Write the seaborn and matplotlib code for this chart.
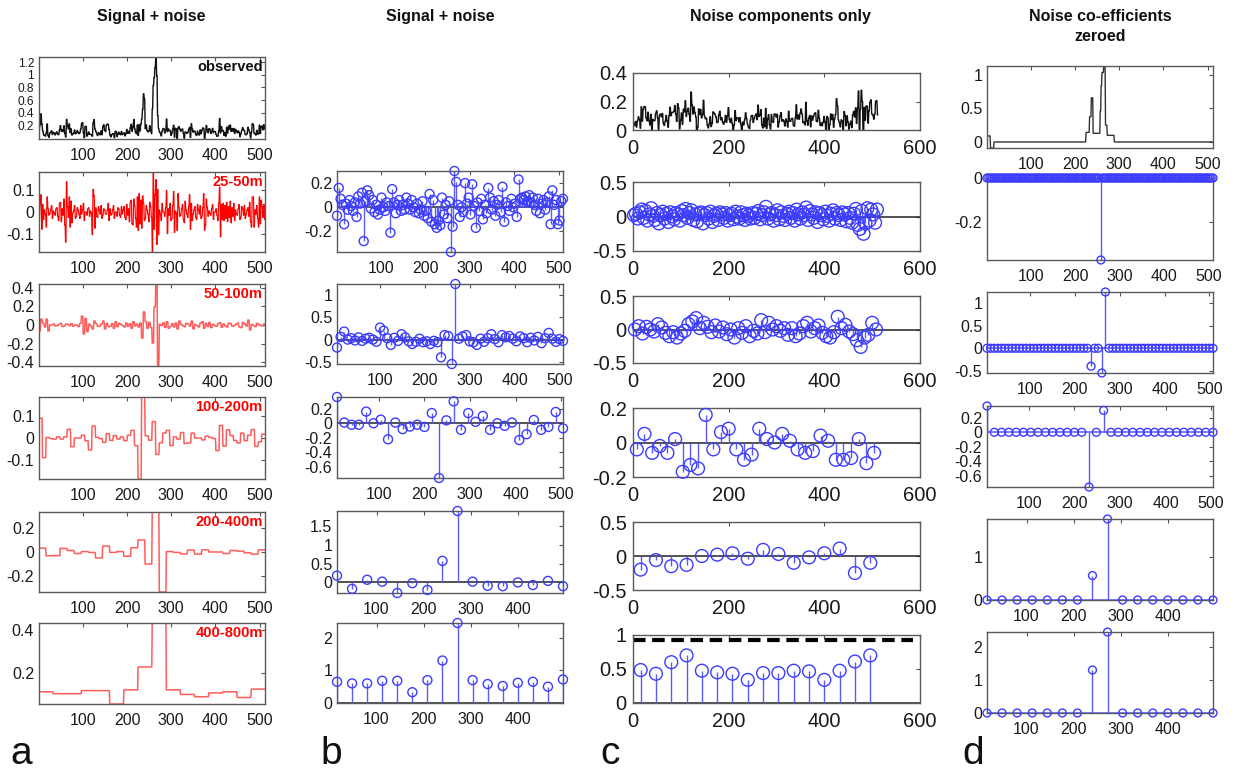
import numpy as np
import matplotlib
matplotlib.use("Agg")
import matplotlib.pyplot as plt
import seaborn as sns
from matplotlib.ticker import FuncFormatter

# ---------------- Haar coefficients of the observed record (signal + noise) ----------------
# detail level 2 (25-50 m), 128 coefficients
sn_d2 = [-0.07, 0.16, 0.07, 0.02, -0.14, 0.03, -0.02, 0.06, 0.01, -0.03, 0.04, -0.08, 0.09, 0.03, 0.12, -0.28,
         0.05, 0.14, 0.10, -0.01, 0.06, -0.04, 0.02, -0.06, -0.02, 0.08, 0.00, -0.03, 0.04, 0.01, -0.21, 0.15,
         0.04, -0.05, 0.02, 0.06, -0.03, 0.02, -0.02, 0.08, 0.03, -0.02, 0.06, 0.00, -0.04, 0.03, -0.05, -0.02,
         0.05, -0.07, -0.03, -0.09, 0.11, -0.12, 0.06, -0.14, -0.17, -0.11, -0.15, 0.08, -0.06, 0.02, -0.09, 0.05,
         -0.37, -0.16, 0.30, 0.21, 0.02, -0.08, 0.00, -0.04, 0.20, 0.03, 0.08, -0.06, 0.19, 0.01, -0.17, 0.04,
         -0.03, 0.07, -0.10, 0.02, -0.05, 0.16, 0.08, -0.02, 0.05, -0.07, 0.02, 0.06, -0.04, 0.17, -0.12, 0.04,
         0.01, -0.03, 0.07, 0.00, 0.03, -0.08, 0.23, 0.07, 0.08, 0.06, 0.09, 0.05, 0.10, 0.04, 0.08, 0.02,
         -0.03, 0.07, -0.05, 0.03, 0.06, -0.02, 0.04, 0.09, -0.14, 0.14, 0.02, 0.06, -0.14, -0.11, 0.05, 0.07]
# detail level 3 (50-100 m), 64 coefficients
sn_d3 = [-0.18, 0.06, 0.18, 0.00, 0.03, -0.02, 0.05, -0.03, 0.02, 0.04, 0.00, -0.05, 0.27, 0.20, 0.03, -0.12,
         0.04, -0.03, 0.12, 0.05, -0.04, -0.10, -0.05, 0.02, -0.06, -0.04, -0.10, -0.03, -0.06, -0.40, 0.10, 0.08,
         -0.55, 1.25, 0.02, 0.07, 0.10, -0.04, -0.06, -0.12, 0.02, -0.05, 0.03, 0.12, 0.01, -0.06, 0.10, 0.05,
         0.08, 0.02, -0.04, 0.07, 0.03, -0.06, 0.04, -0.02, 0.06, -0.08, 0.03, 0.15, 0.02, -0.05, 0.01, -0.03]
# detail level 4 (100-200 m), 32 coefficients
sn_d4 = [0.36, 0.01, -0.02, -0.02, 0.16, 0.00, 0.05, -0.22, 0.01, -0.08, -0.045, -0.02, -0.05, 0.14, -0.75, 0.04,
         0.30, -0.09, 0.14, 0.02, 0.10, -0.09, 0.00, -0.035, 0.01, -0.23, -0.15, 0.045, -0.09, -0.05, 0.155, -0.07]
# detail level 5 (200-400 m), 16 coefficients
sn_d5 = [0.18, -0.17, 0.07, 0.02, -0.28, -0.02, -0.20, 0.57, 1.89, 0.02, -0.09, -0.10, 0.00, -0.07, 0.04, -0.10]
# approximation level 5 (400-800 m), 16 coefficients
sn_a5 = [0.65, 0.60, 0.60, 0.68, 0.68, 0.33, 0.70, 1.30, 2.45, 0.70, 0.58, 0.52, 0.62, 0.65, 0.50, 0.72]

# ---------------- Haar coefficients of the noise-only record ----------------
nz_d2 = [0.02, 0.04, -0.03, 0.06, 0.10, -0.02, 0.08, -0.06, 0.03, 0.12, 0.01, -0.05, 0.05, -0.10, 0.02, 0.07,
         -0.03, 0.04, -0.08, 0.06, 0.00, -0.04, 0.05, 0.03, -0.06, 0.08, 0.02, 0.11, -0.02, 0.05, 0.09, -0.05,
         0.03, -0.07, 0.04, 0.06, -0.10, 0.02, 0.05, -0.03, 0.07, -0.08, 0.01, 0.04, -0.05, 0.06, 0.03, -0.02,
         0.05, -0.06, 0.02, 0.04, -0.04, 0.07, 0.00, -0.03, 0.06, 0.02, -0.05, 0.04, 0.01, -0.03, 0.05, -0.02,
         0.04, 0.08, -0.04, 0.02, 0.06, 0.14, -0.03, 0.03, 0.05, -0.06, 0.02, 0.09, -0.04, 0.06, 0.01, -0.05,
         0.04, 0.07, -0.02, 0.05, -0.06, 0.10, 0.03, -0.03, 0.06, 0.02, 0.13, -0.05, 0.08, 0.03, -0.02, 0.06,
         -0.08, 0.05, 0.02, -0.04, 0.07, 0.01, -0.06, 0.04, 0.09, -0.03, 0.05, 0.02, -0.05, 0.06, 0.03, -0.07,
         0.05, -0.02, -0.09, 0.04, 0.11, -0.12, -0.18, 0.08, -0.25, -0.10, 0.12, -0.06, 0.10, 0.03, -0.09, 0.10]
nz_d3 = [0.00, 0.05, -0.06, 0.04, 0.00, -0.03, 0.08, 0.03, -0.05, -0.10, -0.04, -0.12, -0.06, -0.02, 0.08, 0.12,
         0.17, 0.02, 0.10, 0.04, -0.04, 0.06, -0.03, 0.03, -0.07, 0.00, -0.12, 0.02, -0.05, 0.05, -0.10, -0.02,
         -0.06, 0.14, -0.04, 0.10, 0.00, 0.05, -0.02, 0.02, -0.08, 0.02, -0.10, -0.06, 0.05, 0.10, -0.03, 0.02,
         0.06, -0.05, -0.10, -0.12, -0.04, 0.19, 0.02, 0.07, -0.03, -0.07, -0.16, -0.26, -0.12, -0.08, 0.10, 0.00]
nz_d4 = [-0.04, 0.05, -0.06, -0.02, -0.06, 0.02, -0.17, -0.13, -0.15, 0.16, -0.04, 0.06, 0.08, -0.04, -0.10, -0.07,
         0.08, 0.02, 0.00, 0.05, 0.01, -0.04, -0.06, -0.05, 0.04, 0.01, -0.10, -0.10, -0.09, 0.02, -0.12, -0.06]
nz_d5 = [-0.20, -0.06, -0.15, -0.13, 0.00, 0.02, 0.04, -0.04, 0.09, 0.03, -0.10, -0.02, 0.04, 0.11, -0.25, -0.10]
nz_a5 = [0.485, 0.43, 0.60, 0.70, 0.475, 0.45, 0.43, 0.34, 0.44, 0.44, 0.475, 0.465, 0.34, 0.475, 0.61, 0.70]
noise_threshold = 0.93
threshold_span = [0, 585]

# indices of coefficients that survive thresholding
kept_d2 = [64]
kept_d3 = [29, 32, 33]
kept_d4 = [0, 14, 16]
kept_d5 = [7, 8]
kept_a5 = [7, 8]

band_labels = ["25-50m", "50-100m", "100-200m", "200-400m", "400-800m"]
col_titles = ["Signal + noise", "Signal + noise", "Noise components only", "Noise co-efficients\nzeroed"]
panel_letters = ["a", "b", "c", "d"]
N_SAMPLES = 512

# ---------------- helpers ----------------
samples = np.arange(1, N_SAMPLES + 1)


def coef_positions(n):
    step = N_SAMPLES // n
    return step // 2 + step * np.arange(n)


def detail_wave(c, level):
    c = np.asarray(c, float)
    half = 2 ** (level - 1)
    sign = np.r_[np.ones(half), -np.ones(half)]
    return np.outer(c, sign).ravel() / 2 ** (level / 2)


def approx_wave(c, level):
    return np.repeat(np.asarray(c, float), 2 ** level) / 2 ** (level / 2)


def zeroed(c, keep):
    c = np.asarray(c, float)
    out = np.zeros_like(c)
    out[keep] = c[keep]
    return out


def synthesis(d2, d3, d4, d5, a5):
    return (detail_wave(d2, 2) + detail_wave(d3, 3) + detail_wave(d4, 4)
            + detail_wave(d5, 5) + approx_wave(a5, 5))


sn_bands = [sn_d2, sn_d3, sn_d4, sn_d5, sn_a5]
nz_bands = [nz_d2, nz_d3, nz_d4, nz_d5, nz_a5]
kept = [kept_d2, kept_d3, kept_d4, kept_d5, kept_a5]
zr_bands = [zeroed(c, k) for c, k in zip(sn_bands, kept)]
band_waves = [detail_wave(sn_d2, 2), detail_wave(sn_d3, 3), detail_wave(sn_d4, 4),
              detail_wave(sn_d5, 5), approx_wave(sn_a5, 5)]
observed = synthesis(*sn_bands)
noise_only = synthesis(*nz_bands)
denoised = synthesis(*zr_bands)

# ---------------- style ----------------
sns.set_theme(style="white")
plt.rcParams["font.family"] = ["Liberation Sans", "DejaVu Sans"]
plt.rcParams["axes.facecolor"] = "white"

W, H = 1237, 770
fig = plt.figure(figsize=(W / 100, H / 100), dpi=100)
fmt = FuncFormatter(lambda v, p: f"{v:g}")

BLUE_EDGE = "#3c3cff"
BLUE_STEM = "#5a5aff"
RED = "#ff0000"
RED_LIGHT = "#ff5c5c"


def make_ax(left, right, top, bottom):
    return fig.add_axes([left / W, 1 - bottom / H, (right - left) / W, (bottom - top) / H])


def style(ax, xlim, ylim, xticks, yticks, fs=11.5, xpad=6.5, ypad=3.5, yfs=None):
    ax.set_xlim(*xlim)
    ax.set_ylim(*ylim)
    ax.set_xticks(xticks)
    ax.set_yticks(yticks)
    ax.xaxis.set_major_formatter(fmt)
    ax.yaxis.set_major_formatter(fmt)
    ax.tick_params(direction="in", top=True, right=True, labeltop=False, labelright=False,
                   length=3, width=0.8, color="#555555", labelsize=fs, labelcolor="#1a1a1a")
    ax.tick_params(axis="x", pad=xpad)
    ax.tick_params(axis="y", pad=ypad, labelsize=yfs or fs)
    for s in ax.spines.values():
        s.set_color("#5a5a5a")
        s.set_linewidth(1.0)
    ax.set_xlabel("")
    ax.set_ylabel("")


def line(ax, x, y, color, lw):
    sns.lineplot(x=x, y=y, ax=ax, color=color, lw=lw, estimator=None, sort=False, legend=False)


def stems(ax, c, size, base_color="#222222"):
    c = np.asarray(c, float)
    x = coef_positions(len(c))
    ax.axhline(0, color=base_color, lw=1.1, zorder=1)
    ax.vlines(x, 0, c, color=BLUE_STEM, lw=1.0, zorder=2)
    sns.scatterplot(x=x, y=c, ax=ax, marker="o", s=size, facecolor="none",
                    edgecolor=BLUE_EDGE, linewidth=1.0, zorder=3, legend=False, clip_on=False)


def tight(v, include_zero=False):
    lo, hi = float(np.min(v)), float(np.max(v))
    if include_zero:
        lo, hi = min(lo, 0.0), max(hi, 0.0)
    return lo, hi


# ---------------- column a: band waveforms ----------------
a_rows = [(57, 139), (172, 252), (284, 366), (397, 479), (512, 592), (623, 704)]
a_yticks = [np.arange(0.2, 1.21, 0.2), [-0.1, 0, 0.1], [-0.4, -0.2, 0, 0.2, 0.4],
            [-0.1, 0, 0.1], [-0.2, 0, 0.2], [0.2, 0.4]]
a_series = [observed] + band_waves
for i, ((t, b), y) in enumerate(zip(a_rows, a_series)):
    ax = make_ax(39, 265, t, b)
    if i == 0:
        line(ax, samples, y, "#111111", 1.0)
        lab, lc = "observed", "#111111"
    else:
        line(ax, samples, y, RED if i == 1 else RED_LIGHT, 0.85 if i == 1 else 1.1)
        lab, lc = band_labels[i - 1], RED
    lo, hi = tight(y)
    style(ax, (1, N_SAMPLES), (lo, hi), [100, 200, 300, 400, 500], a_yticks[i],
          yfs=8.6 if i == 0 else None)
    ax.text(0.99, 0.96, lab, transform=ax.transAxes, ha="right", va="top",
            fontsize=10.5, fontweight="bold", color=lc)

# ---------------- column b: coefficients of signal + noise ----------------
b_rows = [(171, 252), (284, 364), (397, 478), (511, 593), (623, 703)]
b_yticks = [[-0.2, 0, 0.2], [-0.5, 0, 0.5, 1], [-0.6, -0.4, -0.2, 0, 0.2], [0, 0.5, 1, 1.5], [0, 1, 2]]
for i, ((t, b), c) in enumerate(zip(b_rows, sn_bands)):
    ax = make_ax(337, 563, t, b)
    stems(ax, c, 42)
    x = coef_positions(len(c))
    xt = [100, 200, 300, 400, 500] if i < 3 else [100, 200, 300, 400]
    style(ax, (x[0], x[-1]), tight(c, include_zero=True), xt, b_yticks[i])

# ---------------- column c: noise components ----------------
c_rows = [(73, 130), (182, 251), (296, 363), (408, 477), (522, 590), (635, 703)]
c_ylims = [(0, 0.4), (-0.5, 0.5), (-0.5, 0.5), (-0.2, 0.2), (-0.5, 0.5), (0, 1)]
c_yticks = [[0, 0.2, 0.4], [-0.5, 0, 0.5], [-0.5, 0, 0.5], [-0.2, 0, 0.2], [-0.5, 0, 0.5], [0, 0.5, 1]]
for i, (t, b) in enumerate(c_rows):
    ax = make_ax(633, 920, t, b)
    if i == 0:
        line(ax, samples, noise_only, "#111111", 1.0)
    else:
        stems(ax, nz_bands[i - 1], 85)
    if i == 5:
        line(ax, threshold_span, [noise_threshold] * 2, "black", 3.0)
        ax.lines[-1].set_dashes((3, 1.6))
    style(ax, (0, 600), c_ylims[i], [0, 200, 400, 600], c_yticks[i], fs=14.5, xpad=6.5, ypad=4.5)

# ---------------- column d: noise coefficients zeroed ----------------
d_rows = [(66, 148), (178, 260), (292, 373), (406, 487), (519, 600), (632, 713)]
d_yticks = [[0, 0.5, 1], [-0.2, 0], [-0.5, 0, 0.5, 1], [-0.6, -0.4, -0.2, 0, 0.2], [0, 1], [0, 1, 2]]
for i, (t, b) in enumerate(d_rows):
    ax = make_ax(987, 1213, t, b)
    if i == 0:
        line(ax, samples, denoised, "#333333", 1.0)
        style(ax, (1, N_SAMPLES), tight(denoised), [100, 200, 300, 400, 500], d_yticks[0])
    else:
        c = zr_bands[i - 1]
        stems(ax, c, 32, base_color=BLUE_STEM)
        x = coef_positions(len(c))
        xt = [100, 200, 300, 400, 500] if i < 4 else [100, 200, 300, 400]
        style(ax, (x[0], x[-1]), tight(c, include_zero=True), xt, d_yticks[i])

# ---------------- titles and panel letters ----------------
title_x = [151, 440, 780, 1100]
for x, s in zip(title_x, col_titles):
    fig.text(x / W, 1 - 9 / H, s, ha="center", va="top", fontsize=11.5, fontweight="bold",
             color="#111111", linespacing=1.4)

letter_x = [10, 320, 600, 962]
for x, s in zip(letter_x, panel_letters):
    fig.text(x / W, 1 - 764 / H, s, ha="left", va="baseline", fontsize=28, color="#111111")

fig.savefig("out.png", dpi=100, facecolor="white")
